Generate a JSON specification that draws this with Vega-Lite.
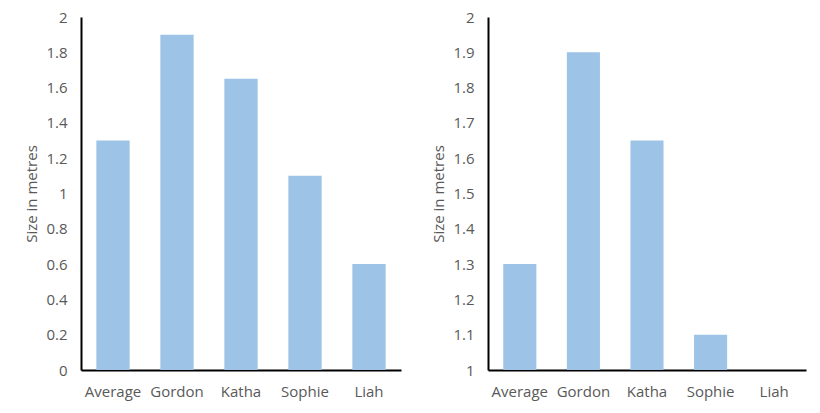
{
  "$schema": "https://vega.github.io/schema/vega-lite/v6.json",
  "background": "white",
  "padding": {"left": 24, "top": 10, "right": 10, "bottom": 5},
  "spacing": 30,
  "config": {
    "view": {"stroke": null},
    "font": "Open Sans",
    "axis": {"labelFont": "Open Sans", "titleFont": "Open Sans", "labelColor": "#595959", "titleColor": "#595959", "labelFontSize": 15, "titleFontSize": 15, "titleFontWeight": "normal", "grid": false, "ticks": false, "domainColor": "#000000", "domainWidth": 2}
  },
  "data": {"values": [
    {"name": "Average", "size": 1.3},
    {"name": "Gordon", "size": 1.9},
    {"name": "Katha", "size": 1.65},
    {"name": "Sophie", "size": 1.1},
    {"name": "Liah", "size": 0.6}
  ]},
  "hconcat": [
    {
      "width": 320,
      "height": 353,
      "mark": {"type": "bar", "color": "#9DC3E6"},
      "encoding": {
        "x": {"field": "name", "type": "nominal", "sort": null, "title": null,
              "scale": {"paddingInner": 0.48, "paddingOuter": 0.24},
              "axis": {"labelAngle": 0, "labelPadding": 14}},
        "y": {"field": "size", "type": "quantitative", "title": "Size in metres",
              "scale": {"domain": [0, 2], "nice": false},
              "axis": {"values": [0, 0.2, 0.4, 0.6, 0.8, 1, 1.2, 1.4, 1.6, 1.8, 2], "format": ".1~f", "labelPadding": 14, "titlePadding": 6}}
      }
    },
    {
      "width": 318,
      "height": 353,
      "mark": {"type": "bar", "color": "#9DC3E6", "clip": true},
      "encoding": {
        "x": {"field": "name", "type": "nominal", "sort": null, "title": null,
              "scale": {"paddingInner": 0.48, "paddingOuter": 0.24},
              "axis": {"labelAngle": 0, "labelPadding": 14}},
        "y": {"field": "size", "type": "quantitative", "title": "Size in metres",
              "scale": {"domain": [1, 2], "nice": false, "zero": false},
              "axis": {"values": [1, 1.1, 1.2, 1.3, 1.4, 1.5, 1.6, 1.7, 1.8, 1.9, 2], "format": ".1~f", "labelPadding": 14, "titlePadding": 6}}
      }
    }
  ]
}
